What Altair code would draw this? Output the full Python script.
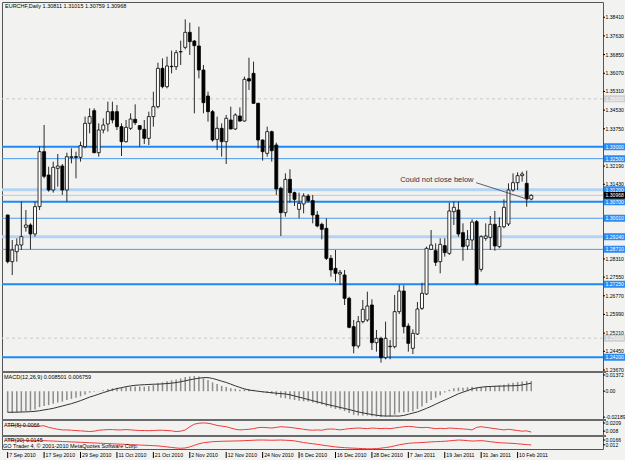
import altair as alt
import pandas as pd

FONT = "Liberation Sans"
BG = "#F2F3F1"
W, H = 601, 447

# ---------------- price data (daily candles, 7 Sep 2010 .. 15 Feb 2011) ----------------
opens = [1.30146, 1.28196, 1.28614, 1.28892, 1.29631, 1.29728, 1.29352, 1.30495, 1.32793, 1.31818,
         1.31191, 1.32096, 1.32194, 1.31191, 1.32542, 1.32584, 1.32556, 1.33002, 1.33977, 1.34506,
         1.32751, 1.33698, 1.33949, 1.34464, 1.34464, 1.33838, 1.33211, 1.33768, 1.34144, 1.33879,
         1.33726, 1.33350, 1.34257, 1.34673, 1.36275, 1.35509, 1.36345, 1.36345, 1.36960, 1.37153,
         1.37780, 1.37418, 1.37209, 1.36206, 1.35119, 1.34464, 1.33308, 1.33768, 1.33211, 1.34116,
         1.33740, 1.34283, 1.34074, 1.35843, 1.36066, 1.34813, 1.33280, 1.32723, 1.33629, 1.33071,
         1.31261, 1.30243, 1.31636, 1.31080, 1.30383, 1.30606, 1.30940, 1.30745, 1.30146, 1.29756,
         1.29589, 1.28335, 1.27917, 1.27680, 1.27639, 1.26664, 1.25480, 1.24671, 1.25688, 1.25758,
         1.26385, 1.24811, 1.24992, 1.24184, 1.24643, 1.24643, 1.26107, 1.26970, 1.25507, 1.24574,
         1.25173, 1.26246, 1.26845, 1.28711, 1.28655, 1.28196, 1.28865, 1.28544, 1.30285, 1.30355,
         1.29408, 1.28851, 1.29101, 1.29867, 1.27875, 1.29171, 1.29212, 1.29756, 1.28823, 1.29658,
         1.29770, 1.31191, 1.31497, 1.31790, 1.31469, 1.30811]
highs = [1.30160, 1.29101, 1.29171, 1.30703, 1.30355, 1.29798, 1.30703, 1.33002, 1.33907, 1.32166,
         1.32375, 1.32695, 1.32277, 1.32751, 1.32932, 1.32793, 1.33211, 1.34257, 1.34604, 1.34604,
         1.33977, 1.34186, 1.34882, 1.34882, 1.34743, 1.33977, 1.34116, 1.34395, 1.34771, 1.33907,
         1.34116, 1.34464, 1.35301, 1.36512, 1.36693, 1.36763, 1.37014, 1.37041, 1.37431, 1.38323,
         1.38184, 1.37459, 1.38017, 1.36415, 1.35301, 1.34534, 1.34257, 1.33977, 1.34325, 1.34673,
         1.34395, 1.34645, 1.35927, 1.36721, 1.36554, 1.34840, 1.33308, 1.33838, 1.33670, 1.33169,
         1.31330, 1.31887, 1.32054, 1.31122, 1.31080, 1.31052, 1.31024, 1.30982, 1.30313, 1.29826,
         1.30007, 1.28475, 1.28683, 1.27849, 1.27849, 1.26733, 1.25758, 1.25925, 1.26594, 1.26942,
         1.26622, 1.25340, 1.25061, 1.25688, 1.24922, 1.26803, 1.27221, 1.27207, 1.25619, 1.25368,
         1.26510, 1.27318, 1.28823, 1.29519, 1.28962, 1.29171, 1.29171, 1.30661, 1.30703, 1.30703,
         1.29798, 1.29519, 1.29965, 1.29937, 1.29296, 1.29798, 1.30104, 1.30313, 1.30049, 1.30801,
         1.31469, 1.31887, 1.31929, 1.31957, 1.32000, 1.31015]
lows = [1.28125, 1.27639, 1.28196, 1.28683, 1.29450, 1.28711, 1.29240, 1.30355, 1.31678, 1.31122,
        1.31080, 1.31330, 1.30982, 1.30703, 1.32305, 1.31678, 1.32375, 1.32932, 1.33559, 1.32723,
        1.32584, 1.33559, 1.33629, 1.33977, 1.33698, 1.32612, 1.33169, 1.33698, 1.33907, 1.33002,
        1.33113, 1.33071, 1.33838, 1.34604, 1.35440, 1.35440, 1.36066, 1.36206, 1.36415, 1.37069,
        1.36832, 1.34395, 1.35857, 1.34395, 1.34047, 1.33211, 1.32862, 1.32584, 1.32277, 1.33726,
        1.33698, 1.34033, 1.34047, 1.35370, 1.34785, 1.32932, 1.32417, 1.32584, 1.32375, 1.30982,
        1.29268, 1.30077, 1.30661, 1.30522, 1.30007, 1.30216, 1.30661, 1.29798, 1.29631, 1.29129,
        1.28265, 1.27569, 1.27360, 1.27221, 1.26385, 1.25410, 1.24365, 1.24574, 1.25619, 1.25688,
        1.24504, 1.24435, 1.23975, 1.24115, 1.24115, 1.24574, 1.26009, 1.25201, 1.24435, 1.24337,
        1.25131, 1.26176, 1.26803, 1.28683, 1.28015, 1.27708, 1.28405, 1.28475, 1.29728, 1.29240,
        1.28238, 1.28683, 1.28711, 1.27207, 1.27778, 1.29073, 1.28683, 1.28655, 1.28753, 1.29589,
        1.29686, 1.31122, 1.31191, 1.31540, 1.30495, 1.30759]
closes = [1.28196, 1.28683, 1.28892, 1.29240, 1.29728, 1.29352, 1.30495, 1.32793, 1.31763, 1.31191,
          1.32138, 1.32194, 1.31191, 1.32584, 1.32584, 1.32556, 1.33043, 1.33977, 1.34257, 1.32751,
          1.33698, 1.33907, 1.34464, 1.34116, 1.33838, 1.33211, 1.33810, 1.34158, 1.34005, 1.33726,
          1.33350, 1.34257, 1.34673, 1.36275, 1.35509, 1.36373, 1.36360, 1.36930, 1.36975, 1.37780,
          1.37390, 1.37222, 1.36206, 1.34840, 1.34464, 1.33280, 1.33768, 1.33211, 1.34186, 1.33740,
          1.34325, 1.34074, 1.35816, 1.35746, 1.34813, 1.33280, 1.32793, 1.33629, 1.32834, 1.31232,
          1.30243, 1.31636, 1.31080, 1.30801, 1.30634, 1.30940, 1.30745, 1.30146, 1.29686, 1.29547,
          1.28335, 1.27849, 1.27708, 1.27750, 1.26664, 1.25452, 1.24671, 1.25688, 1.26204, 1.26343,
          1.24811, 1.24992, 1.24184, 1.24992, 1.24660, 1.26107, 1.26970, 1.25480, 1.24783, 1.25201,
          1.26218, 1.26873, 1.28753, 1.28892, 1.28168, 1.28920, 1.28572, 1.30313, 1.30467, 1.29352,
          1.28823, 1.29129, 1.29853, 1.27262, 1.29240, 1.29268, 1.29756, 1.28851, 1.29658, 1.30467,
          1.31191, 1.31497, 1.31790, 1.31860, 1.30815, 1.30968]

# ---------------- indicators ----------------
macd_main = [-0.0180, -0.0182, -0.0180, -0.0176, -0.0170, -0.0165, -0.0155, -0.0135, -0.0125, -0.0118,
             -0.0105, -0.0095, -0.0088, -0.0075, -0.0065, -0.0055, -0.0043, -0.0030, -0.0012, -0.0005,
             0.0002, 0.0008, 0.0018, 0.0025, 0.0030, 0.0030, 0.0033, 0.0038, 0.0040, 0.0040,
             0.0038, 0.0045, 0.0052, 0.0068, 0.0075, 0.0085, 0.0092, 0.0100, 0.0108, 0.0120,
             0.0125, 0.0128, 0.0125, 0.0110, 0.0095, 0.0075, 0.0060, 0.0045, 0.0035, 0.0025,
             0.0020, 0.0012, 0.0015, 0.0018, 0.0012, 0.0002, -0.0010, -0.0015, -0.0020, -0.0035,
             -0.0055, -0.0060, -0.0068, -0.0075, -0.0080, -0.0085, -0.0088, -0.0095, -0.0105, -0.0112,
             -0.0128, -0.0140, -0.0150, -0.0155, -0.0168, -0.0185, -0.0200, -0.0205, -0.0205, -0.0205,
             -0.0212, -0.0215, -0.0218, -0.0215, -0.0212, -0.0198, -0.0180, -0.0178, -0.0175, -0.0170,
             -0.0150, -0.0130, -0.0100, -0.0075, -0.0055, -0.0035, -0.0010, 0.0012, 0.0025, 0.0030,
             0.0030, 0.0033, 0.0038, 0.0030, 0.0035, 0.0040, 0.0042, 0.0045, 0.0050, 0.0055,
             0.0065, 0.0072, 0.0078, 0.0082, 0.0085, 0.0085]
macd_signal = [-0.0178, -0.0178, -0.0177, -0.0176, -0.0175, -0.0173, -0.0170, -0.0165, -0.0158, -0.0152,
               -0.0145, -0.0135, -0.0125, -0.0115, -0.0105, -0.0093, -0.0080, -0.0065, -0.0050, -0.0038,
               -0.0025, -0.0012, 0.0000, 0.0012, 0.0022, 0.0030, 0.0038, 0.0045, 0.0050, 0.0053,
               0.0055, 0.0057, 0.0059, 0.0060, 0.0062, 0.0065, 0.0068, 0.0073, 0.0080, 0.0088,
               0.0096, 0.0104, 0.0110, 0.0115, 0.0115, 0.0108, 0.0097, 0.0085, 0.0074, 0.0060,
               0.0045, 0.0032, 0.0020, 0.0010, 0.0005, 0.0000, -0.0005, -0.0009, -0.0013, -0.0017,
               -0.0020, -0.0023, -0.0030, -0.0040, -0.0050, -0.0060, -0.0070, -0.0080, -0.0090, -0.0100,
               -0.0110, -0.0119, -0.0128, -0.0137, -0.0146, -0.0155, -0.0165, -0.0175, -0.0183, -0.0190,
               -0.0197, -0.0203, -0.0208, -0.0210, -0.0210, -0.0210, -0.0210, -0.0205, -0.0195, -0.0185,
               -0.0175, -0.0160, -0.0145, -0.0128, -0.0110, -0.0092, -0.0075, -0.0058, -0.0040, -0.0022,
               -0.0008, 0.0005, 0.0019, 0.0028, 0.0034, 0.0038, 0.0040, 0.0042, 0.0043, 0.0044,
               0.0045, 0.0046, 0.0048, 0.0053, 0.0060, 0.0068]
atr5 = [0.0165, 0.0168, 0.0170, 0.0168, 0.0165, 0.0160, 0.0155, 0.0160, 0.0165, 0.0140,
        0.0125, 0.0110, 0.0100, 0.0100, 0.0095, 0.0090, 0.0085, 0.0080, 0.0075, 0.0080,
        0.0095, 0.0100, 0.0105, 0.0105, 0.0100, 0.0100, 0.0105, 0.0100, 0.0095, 0.0090,
        0.0090, 0.0088, 0.0090, 0.0095, 0.0095, 0.0090, 0.0085, 0.0075, 0.0080, 0.0100,
        0.0150, 0.0190, 0.0205, 0.0210, 0.0205, 0.0190, 0.0170, 0.0160, 0.0150, 0.0130,
        0.0110, 0.0100, 0.0105, 0.0110, 0.0120, 0.0135, 0.0140, 0.0135, 0.0130, 0.0140,
        0.0150, 0.0145, 0.0140, 0.0130, 0.0120, 0.0110, 0.0100, 0.0095, 0.0100, 0.0095,
        0.0110, 0.0115, 0.0110, 0.0100, 0.0110, 0.0120, 0.0125, 0.0130, 0.0125, 0.0120,
        0.0130, 0.0125, 0.0120, 0.0125, 0.0120, 0.0130, 0.0140, 0.0150, 0.0155, 0.0150,
        0.0140, 0.0135, 0.0140, 0.0130, 0.0120, 0.0125, 0.0120, 0.0130, 0.0125, 0.0120,
        0.0115, 0.0110, 0.0100, 0.0140, 0.0150, 0.0140, 0.0130, 0.0120, 0.0110, 0.0100,
        0.0110, 0.0100, 0.0090, 0.0080, 0.0085, 0.0066]
atr20 = [0.0166, 0.0165, 0.0164, 0.0163, 0.0162, 0.0160, 0.0158, 0.0158, 0.0160, 0.0158,
         0.0156, 0.0154, 0.0152, 0.0150, 0.0148, 0.0146, 0.0144, 0.0142, 0.0140, 0.0138,
         0.0136, 0.0134, 0.0132, 0.0130, 0.0128, 0.0126, 0.0124, 0.0122, 0.0120, 0.0118,
         0.0116, 0.0114, 0.0112, 0.0110, 0.0105, 0.0100, 0.0095, 0.0090, 0.0087, 0.0090,
         0.0100, 0.0115, 0.0130, 0.0140, 0.0145, 0.0150, 0.0152, 0.0154, 0.0155, 0.0156,
         0.0157, 0.0158, 0.0160, 0.0162, 0.0164, 0.0166, 0.0166, 0.0165, 0.0164, 0.0165,
         0.0166, 0.0164, 0.0162, 0.0158, 0.0150, 0.0142, 0.0136, 0.0130, 0.0125, 0.0118,
         0.0112, 0.0106, 0.0100, 0.0096, 0.0093, 0.0090, 0.0088, 0.0086, 0.0084, 0.0082,
         0.0082, 0.0084, 0.0088, 0.0094, 0.0100, 0.0110, 0.0120, 0.0128, 0.0134, 0.0138,
         0.0140, 0.0142, 0.0145, 0.0148, 0.0150, 0.0152, 0.0154, 0.0158, 0.0162, 0.0166,
         0.0164, 0.0160, 0.0156, 0.0158, 0.0160, 0.0156, 0.0150, 0.0145, 0.0140, 0.0138,
         0.0136, 0.0134, 0.0130, 0.0126, 0.0122, 0.0118]

# ---------------- levels, axis labels ----------------
level_prices = [1.33000, 1.32500, 1.31200, 1.30700, 1.30010, 1.29240, 1.28710, 1.27250, 1.24200]
level_kinds = ["strong", "thin", "light", "strong", "thin", "light", "thin", "strong", "strong"]
round_levels = [1.35000, 1.25000]
bid_price = 1.30968
price_ticks = [1.38410, 1.37630, 1.36850, 1.36070, 1.35310, 1.34530, 1.33750, 1.32190, 1.31430,
               1.28310, 1.27550, 1.26770, 1.25990, 1.25210, 1.24450, 1.23670]
macd_ticks = [0.01372, 0.0, -0.02189]
macd_tick_text = ["0.01372", "0.00", "-0.02189"]
atr5_ticks = [0.0209, 0.008]
atr5_tick_text = ["0.0209", "0.008"]
atr20_ticks = [0.0166, 0.012]
atr20_tick_text = ["0.0166", "0.012"]
date_pos = [0, 8, 16, 24, 32, 40, 48, 56, 64, 72, 80, 88, 96, 104, 112]
date_text = ["7 Sep 2010", "17 Sep 2010", "29 Sep 2010", "11 Oct 2010", "21 Oct 2010", "2 Nov 2010",
             "12 Nov 2010", "24 Nov 2010", "6 Dec 2010", "16 Dec 2010", "28 Dec 2010", "7 Jan 2011",
             "19 Jan 2011", "31 Jan 2011", "10 Feb 2011"]
note_text = "Could not close below"
note_pos = [86.2, 1.31608]
note_line = [102.9, 1.31496, 114.25, 1.30802]

# ---------------- frames ----------------
n = len(opens)
df = pd.DataFrame({"i": list(range(n)), "o": opens, "h": highs, "l": lows, "c": closes,
                   "m": macd_main, "s": macd_signal, "a5": atr5, "a20": atr20})
df["dir"] = ["up" if c >= o else "down" for o, c in zip(opens, closes)]

xs = alt.Scale(domain=[-0.15, 129.66], nice=False, zero=False)
X = alt.X("i:Q", scale=xs, axis=None)
S_MAIN = alt.Scale(domain=[1.23627, 1.39047], range=[369, 0], nice=False, zero=False)
S_MACD = alt.Scale(domain=[-0.0235, 0.0154], range=[417, 371], nice=False, zero=False)
S_A5 = alt.Scale(domain=[0.002, 0.024], range=[433, 419], nice=False, zero=False)
S_A20 = alt.Scale(domain=[0.008, 0.0195], range=[447, 435], nice=False, zero=False)


def Y(field, scale):
    return alt.Y(field, scale=scale, axis=None)


layers = []

# horizontal levels
lv = pd.DataFrame({"p": level_prices, "k": level_kinds})
styles = {"light": ("#B3D4F3", 3), "thin": ("#4C9BEF", 1), "strong": ("#1E88F5", 2)}
for k, (col, sw) in styles.items():
    layers.append(alt.Chart(lv[lv.k == k]).mark_rule(color=col, strokeWidth=sw)
                  .encode(y=Y("p:Q", S_MAIN)))
rl = pd.DataFrame({"p": round_levels})
layers.append(alt.Chart(rl).mark_rule(color="#C9C9C9", strokeWidth=1, strokeDash=[3, 3])
              .encode(y=Y("p:Q", S_MAIN)))
layers.append(alt.Chart(pd.DataFrame({"p": [bid_price]})).mark_rule(color="#C8C8C8", strokeWidth=1)
              .encode(y=Y("p:Q", S_MAIN)))

# candles
layers.append(alt.Chart(df).mark_rule(color="#2A2A2A", strokeWidth=1)
              .encode(x=X, y=Y("l:Q", S_MAIN), y2="h:Q"))
layers.append(alt.Chart(df).mark_bar(size=3, stroke="#000000", strokeWidth=0.8)
              .encode(x=X, y=Y("o:Q", S_MAIN), y2="c:Q",
                      fill=alt.Fill("dir:N", scale=alt.Scale(domain=["up", "down"], range=["#FFFFFF", "#000000"]),
                                    legend=None)))

# annotation
nl = pd.DataFrame({"i": [note_line[0]], "p": [note_line[1]], "i2": [note_line[2]], "p2": [note_line[3]]})
layers.append(alt.Chart(nl).mark_rule(color="#3A3A4A", strokeWidth=0.8)
              .encode(x=X, x2="i2:Q", y=Y("p:Q", S_MAIN), y2="p2:Q"))
nt = pd.DataFrame({"i": [note_pos[0]], "p": [note_pos[1]], "t": [note_text]})
layers.append(alt.Chart(nt).mark_text(align="left", baseline="middle", font=FONT, fontSize=7.5, color="#2F2F45")
              .encode(x=X, y=Y("p:Q", S_MAIN), text="t:N"))

# MACD
layers.append(alt.Chart(df).mark_rule(color="#8C8C8C", strokeWidth=1.5)
              .encode(x=X, y=Y("m:Q", S_MACD), y2=alt.datum(0)))
layers.append(alt.Chart(df).mark_line(color="#333333", strokeWidth=1)
              .encode(x=X, y=Y("s:Q", S_MACD)))
# ATR
layers.append(alt.Chart(df).mark_line(color="#F03A3A", strokeWidth=1)
              .encode(x=X, y=Y("a5:Q", S_A5)))
layers.append(alt.Chart(df).mark_line(color="#F03A3A", strokeWidth=1)
              .encode(x=X, y=Y("a20:Q", S_A20)))

# panel separators
for yy in [370, 418, 434]:
    layers.append(alt.Chart(pd.DataFrame({"z": [0]})).mark_rule(color="#6A6A6A", strokeWidth=2)
                  .encode(x=alt.value(0), x2=alt.value(W + 3), y=alt.value(yy)))

LAB = 5.1


# right price scale
def right_axis(vals, texts, scale):
    d = pd.DataFrame({"p": vals, "t": texts})
    tick = alt.Chart(d).mark_rule(color="#000000", strokeWidth=1).encode(
        x=alt.value(W), x2=alt.value(W + 2), y=Y("p:Q", scale))
    lab = alt.Chart(d).mark_text(align="left", baseline="middle", font=FONT, fontSize=LAB, color="#000000").encode(
        x=alt.value(W + 2.5), y=Y("p:Q", scale), text="t:N")
    return [tick, lab]


layers += right_axis(price_ticks, [f"{v:.5f}" for v in price_ticks], S_MAIN)
layers += right_axis(macd_ticks, macd_tick_text, S_MACD)
layers += right_axis(atr5_ticks, atr5_tick_text, S_A5)
layers += right_axis(atr20_ticks, atr20_tick_text, S_A20)

# coloured price boxes
box_p = level_prices + round_levels + [bid_price]
box_c = ["#2B8BF2"] * len(level_prices) + ["#CFCFCF"] * 2 + ["#000000"]
bx = pd.DataFrame({"p": box_p, "c": box_c, "t": [f"{v:.5f}" for v in box_p]})
layers.append(alt.Chart(bx).mark_rule(strokeWidth=7).encode(
    x=alt.value(W + 1), x2=alt.value(W + 40), y=Y("p:Q", S_MAIN), color=alt.Color("c:N", scale=None)))
layers.append(alt.Chart(bx).mark_text(align="left", baseline="middle", font=FONT, fontSize=LAB, color="#FFFFFF").encode(
    x=alt.value(W + 2.5), y=Y("p:Q", S_MAIN), text="t:N"))

# date axis
dd = pd.DataFrame({"i": date_pos, "t": date_text})
layers.append(alt.Chart(dd).mark_rule(color="#000000", strokeWidth=1).encode(
    x=X, y=alt.value(H + 3), y2=alt.value(H + 9)))
layers.append(alt.Chart(dd).mark_text(align="left", baseline="middle", font=FONT, fontSize=5.2, dx=1.5,
                                      color="#000000").encode(
    x=X, y=alt.value(H + 6), text="t:N"))


# captions
def caption(txt, x, y):
    return alt.Chart(pd.DataFrame({"t": [txt]})).mark_text(
        align="left", baseline="middle", font=FONT, fontSize=5.5, color="#000000").encode(
        x=alt.value(x), y=alt.value(y), text="t:N")


layers.append(caption("EURCHF,Daily  1.30811 1.31015 1.30759 1.30968", 3, 4))
layers.append(caption("MACD(12,26,9) 0.008501 0.006759", 2, 375))
layers.append(caption("ATR(5) 0.0066", 2, 423))
layers.append(caption("ATR(20) 0.0145", 2, 438))
layers.append(caption("GO Trader 4, \u00a9 2001-2010 MetaQuotes Software Corp.", 1, 444))

chart = (alt.layer(*layers)
         .resolve_scale(y="independent")
         .properties(width=W, height=H, background=BG,
                     padding={"left": 2, "top": 2, "right": 22, "bottom": 11},
                     autosize=alt.AutoSizeParams(type="none"))
         .configure_view(stroke="#555555", strokeWidth=1, fill=BG))

chart.save("out.html", embed_options={"renderer": "svg", "actions": False})
